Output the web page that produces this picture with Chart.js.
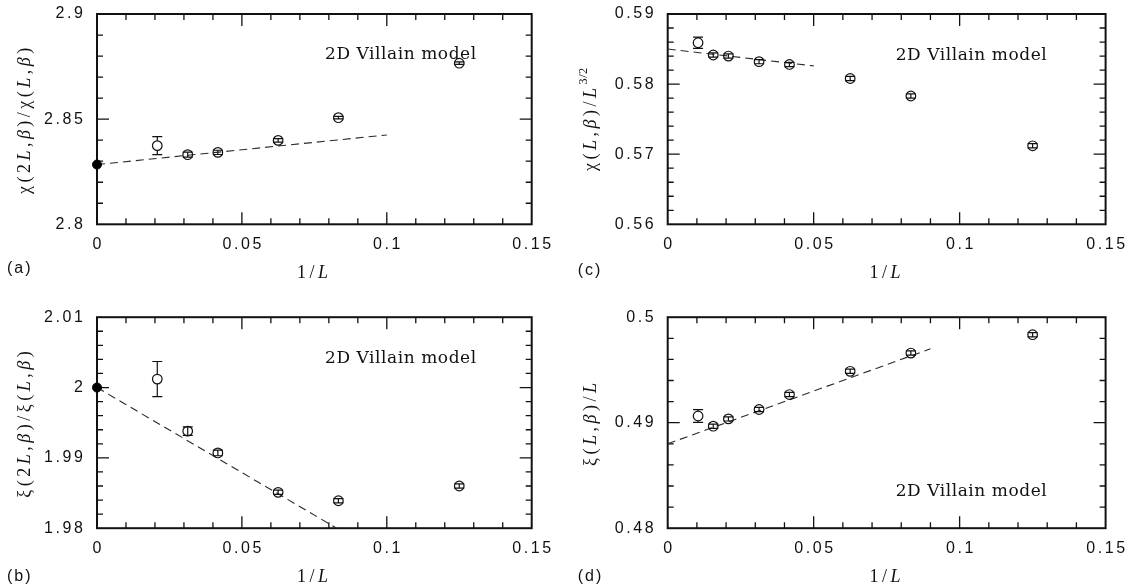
<!DOCTYPE html>
<html>
<head>
<meta charset="utf-8">
<script src="https://cdn.jsdelivr.net/npm/chart.js@4.4.1/dist/chart.umd.min.js"></script>
<style>
  html, body { margin: 0; padding: 0; background: #fff; }
  #wrap { position: relative; width: 1128px; height: 587px; overflow: hidden; background: #fff; }
  canvas { position: absolute; }
</style>
</head>
<body>
<div id="wrap">
  <canvas id="pa" width="564" height="293" style="left:0px;top:0px"></canvas>
  <canvas id="pb" width="564" height="294" style="left:0px;top:293px"></canvas>
  <canvas id="pc" width="564" height="293" style="left:564px;top:0px"></canvas>
  <canvas id="pd" width="564" height="294" style="left:564px;top:293px"></canvas>
</div>
<script>
// 1/L for L = 96, 64, 48, 32, 24, 16, 12, 8
const invL = [0.0104, 0.0156, 0.0208, 0.0313, 0.0417, 0.0625, 0.0833, 0.125];
// 1/L for the ratio observables (L = 48 ... 8)
const invLRatio = [0.0208, 0.0313, 0.0417, 0.0625, 0.0833, 0.125];

// (a) chi(2L,beta)/chi(L,beta)
const chiRatio    = [2.8374, 2.8331, 2.8342, 2.8399, 2.8507, 2.8766];
const chiRatioErr = [0.0043, 0.0012, 0.0010, 0.0008, 0.0006, 0.0006];
const chiRatioLimit = 2.8284;
const chiRatioFitX = [0, 0.1];
const chiRatioFitY = [2.8284, 2.8425];

// (b) xi(2L,beta)/xi(L,beta)
const xiRatio    = [2.0012, 1.9938, 1.9907, 1.9851, 1.9839, 1.9860];
const xiRatioErr = [0.0025, 0.0006, 0.0004, 0.0003, 0.0003, 0.0003];
const xiRatioLimit = 2.0;
const xiRatioFitX = [0, 0.0827];
const xiRatioFitY = [2.0, 1.98];

// (c) chi(L,beta)/L^{3/2}
const chiScaled    = [0.5859, 0.58415, 0.5840, 0.5832, 0.5828, 0.5808, 0.5783, 0.5712];
const chiScaledErr = [0.0008, 0.0003, 0.0003, 0.0003, 0.0003, 0.0003, 0.0003, 0.0003];
const chiScaledFitX = [0, 0.05];
const chiScaledFitY = [0.5850, 0.5826];

// (d) xi(L,beta)/L
const xiScaled    = [0.49064, 0.48967, 0.49036, 0.49125, 0.49267, 0.49487, 0.4966, 0.49834];
const xiScaledErr = [0.0006, 0.0002, 0.0002, 0.0002, 0.0002, 0.0002, 0.0002, 0.0002];
const xiScaledFitX = [0, 0.09];
const xiScaledFitY = [0.4880, 0.4970];

// Tick values and their labels
const xTickValues = [0, 0.05, 0.1, 0.15];
const xTickLabels = ['0', '0.05', '0.1', '0.15'];
const aTickValues = [2.8, 2.85, 2.9];
const aTickLabels = ['2.8', '2.85', '2.9'];
const bTickValues = [1.98, 1.99, 2.0, 2.01];
const bTickLabels = ['1.98', '1.99', '2', '2.01'];
const cTickValues = [0.56, 0.57, 0.58, 0.59];
const cTickLabels = ['0.56', '0.57', '0.58', '0.59'];
const dTickValues = [0.48, 0.49, 0.5];
const dTickLabels = ['0.48', '0.49', '0.5'];

const INK = '#111';
const TICK_FONT = '"Liberation Sans", Arial, sans-serif';
const MATH_FONT = '"Liberation Serif", "Times New Roman", serif';
const NOTE_FONT = '"DejaVu Serif", serif';
const TICK_SIZE = 16;
const TICK_SPACING = 2.6;

function labelFor(v, values, labels) {
  for (let i = 0; i < values.length; i++) {
    if (Math.abs(v - values[i]) < 1e-9) return labels[i];
  }
  return '';
}

// Draws a run of text pieces (upright / italic / superscript) as one line
function drawRich(ctx, parts, x, y, o) {
  ctx.save();
  const fontFor = p => (p.it ? 'italic ' : '') + (p.sup ? o.size * 0.68 : o.size) + 'px ' + o.family;
  const spacingFor = p => (p.sup ? 0.5 : (o.spacing || 0)) + 'px';
  let total = 0;
  const widths = parts.map(p => {
    ctx.font = fontFor(p);
    ctx.letterSpacing = spacingFor(p);
    const w = ctx.measureText(p.t).width;
    total += w;
    return w;
  });
  ctx.translate(x, y);
  if (o.rotate) ctx.rotate(o.rotate);
  let cx = o.align === 'left' ? 0 : (o.align === 'right' ? -total : -total / 2);
  ctx.textAlign = 'left';
  ctx.textBaseline = 'middle';
  ctx.fillStyle = o.color || INK;
  parts.forEach((p, i) => {
    ctx.font = fontFor(p);
    ctx.letterSpacing = spacingFor(p);
    ctx.fillText(p.t, cx, p.sup ? -o.size * 0.42 : 0);
    cx += widths[i];
  });
  ctx.restore();
}

const panelPlugin = {
  id: 'panelDecor',
  beforeDatasetsDraw(chart) {
    const ctx = chart.ctx;
    const a = chart.chartArea;
    const xs = chart.scales.x, ys = chart.scales.y;
    ctx.save();
    ctx.strokeStyle = INK;
    ctx.lineWidth = 1.3;
    // inward tick marks on all four sides
    xs.ticks.forEach(t => {
      const px = xs.getPixelForValue(t.value);
      if (px <= a.left + 1 || px >= a.right - 1) return;
      const len = t.label ? 12 : 6;
      ctx.beginPath();
      ctx.moveTo(px, a.bottom); ctx.lineTo(px, a.bottom - len);
      ctx.moveTo(px, a.top); ctx.lineTo(px, a.top + len);
      ctx.stroke();
    });
    ys.ticks.forEach(t => {
      const py = ys.getPixelForValue(t.value);
      if (py <= a.top + 1 || py >= a.bottom - 1) return;
      const len = t.label ? 12 : 6;
      ctx.beginPath();
      ctx.moveTo(a.left, py); ctx.lineTo(a.left + len, py);
      ctx.moveTo(a.right, py); ctx.lineTo(a.right - len, py);
      ctx.stroke();
    });
    // frame
    ctx.lineWidth = 2;
    ctx.strokeRect(a.left, a.top, a.right - a.left, a.bottom - a.top);
    ctx.restore();
  },
  afterDatasetsDraw(chart, args, opts) {
    const ctx = chart.ctx;
    const a = chart.chartArea;
    const xs = chart.scales.x, ys = chart.scales.y;
    const r = 4.7, cap = 5;
    ctx.save();
    ctx.strokeStyle = INK;
    ctx.lineWidth = 1.2;
    // error bars
    opts.ex.forEach((xv, i) => {
      const px = xs.getPixelForValue(xv);
      const py = ys.getPixelForValue(opts.ey[i]);
      const top = ys.getPixelForValue(opts.ey[i] + opts.err[i]);
      const bot = ys.getPixelForValue(opts.ey[i] - opts.err[i]);
      ctx.beginPath();
      ctx.moveTo(px - cap, top); ctx.lineTo(px + cap, top);
      ctx.moveTo(px - cap, bot); ctx.lineTo(px + cap, bot);
      if (top < py - r) {
        ctx.moveTo(px, top); ctx.lineTo(px, py - r);
        ctx.moveTo(px, py + r); ctx.lineTo(px, bot);
      } else {
        ctx.moveTo(px, top); ctx.lineTo(px, bot);
      }
      ctx.stroke();
    });
    ctx.restore();

    // tick labels, placed from the scales' own ticks
    const tickOpts = { family: TICK_FONT, size: TICK_SIZE, spacing: TICK_SPACING };
    xs.ticks.forEach(t => {
      if (!t.label) return;
      drawRich(ctx, [{ t: t.label }], xs.getPixelForValue(t.value) + TICK_SPACING / 2, a.bottom + 20.7, tickOpts);
    });
    ys.ticks.forEach(t => {
      if (!t.label) return;
      drawRich(ctx, [{ t: t.label }], a.left - 14 + TICK_SPACING, ys.getPixelForValue(t.value),
        Object.assign({ align: 'right' }, tickOpts));
    });

    // axis titles, panel tag and annotation
    drawRich(ctx, [{ t: '1/' }, { t: 'L', it: true }],
      (a.left + a.right) / 2, a.bottom + 49,
      { family: MATH_FONT, size: 18, spacing: 3.5 });
    drawRich(ctx, opts.yTitle, a.left - opts.yTitleGap, (a.top + a.bottom) / 2,
      { family: MATH_FONT, size: 18, spacing: 3.5, rotate: -Math.PI / 2 });
    drawRich(ctx, [{ t: opts.tag }], a.left - 90, a.bottom + opts.tagGap,
      { family: TICK_FONT, size: 16, spacing: 2, align: 'left' });
    drawRich(ctx, [{ t: '2D Villain model' }],
      xs.getPixelForValue(opts.noteX), ys.getPixelForValue(opts.noteY),
      { family: NOTE_FONT, size: 17, spacing: 0.55, align: 'left' });
  }
};

function makePanel(id, p) {
  const datasets = [];
  datasets.push({
    data: p.fitX.map((x, i) => ({ x: x, y: p.fitY[i] })),
    showLine: true,
    borderColor: '#2a2a2a',
    borderWidth: 1.1,
    borderDash: [8, 5],
    pointRadius: 0,
    order: 3
  });
  datasets.push({
    data: p.xs.map((x, i) => ({ x: x, y: p.ys[i] })),
    showLine: false,
    pointStyle: 'circle',
    pointRadius: 4.8,
    pointBorderWidth: 1.2,
    pointBorderColor: INK,
    pointBackgroundColor: 'rgba(0,0,0,0)',
    clip: false,
    order: 2
  });
  if (p.limit !== undefined) {
    datasets.push({
      data: [{ x: 0, y: p.limit }],
      showLine: false,
      pointRadius: 4.5,
      pointBorderWidth: 1,
      pointBorderColor: '#000',
      pointBackgroundColor: '#000',
      clip: false,
      order: 1
    });
  }
  new Chart(document.getElementById(id), {
    type: 'scatter',
    data: { datasets: datasets },
    options: {
      responsive: false,
      animation: false,
      events: [],
      layout: { padding: { left: 0, top: p.top, right: p.right, bottom: 0 } },
      plugins: {
        legend: { display: false },
        tooltip: { enabled: false },
        panelDecor: {
          ex: p.xs, ey: p.ys, err: p.err,
          yTitle: p.yTitle, yTitleGap: p.yTitleGap,
          tag: p.tag, tagGap: p.tagGap,
          noteX: p.noteX, noteY: p.noteY
        }
      },
      scales: {
        x: {
          type: 'linear', min: 0, max: 0.15,
          grid: { display: false, drawTicks: false },
          border: { display: false },
          ticks: {
            display: false, stepSize: 0.01, autoSkip: false, maxRotation: 0, minRotation: 0,
            callback: v => labelFor(v, xTickValues, xTickLabels)
          },
          afterFit: s => { s.height = p.xHeight; }
        },
        y: {
          type: 'linear', min: p.ymin, max: p.ymax,
          grid: { display: false, drawTicks: false },
          border: { display: false },
          ticks: {
            display: false, stepSize: p.ystep, autoSkip: false,
            callback: v => labelFor(v, p.tickValues, p.tickLabels)
          },
          afterFit: s => { s.width = p.yWidth; }
        }
      }
    },
    plugins: [panelPlugin]
  });
}

makePanel('pa', {
  xs: invLRatio, ys: chiRatio, err: chiRatioErr, limit: chiRatioLimit,
  fitX: chiRatioFitX, fitY: chiRatioFitY,
  ymin: 2.8, ymax: 2.9, ystep: 0.01, tickValues: aTickValues, tickLabels: aTickLabels,
  top: 14, right: 32.3, yWidth: 97, xHeight: 68.7,
  yTitle: [{ t: 'χ(2' }, { t: 'L', it: true }, { t: ',' }, { t: 'β', it: true }, { t: ')/χ(' },
           { t: 'L', it: true }, { t: ',' }, { t: 'β', it: true }, { t: ')' }],
  yTitleGap: 72, tag: '(a)', tagGap: 44, noteX: 0.0787, noteY: 2.8805
});

makePanel('pb', {
  xs: invLRatio, ys: xiRatio, err: xiRatioErr, limit: xiRatioLimit,
  fitX: xiRatioFitX, fitY: xiRatioFitY,
  ymin: 1.98, ymax: 2.01, ystep: 0.002, tickValues: bTickValues, tickLabels: bTickLabels,
  top: 24.2, right: 32.3, yWidth: 97, xHeight: 58.8,
  yTitle: [{ t: 'ξ(2' }, { t: 'L', it: true }, { t: ',' }, { t: 'β', it: true }, { t: ')/ξ(' },
           { t: 'L', it: true }, { t: ',' }, { t: 'β', it: true }, { t: ')' }],
  yTitleGap: 72, tag: '(b)', tagGap: 48, noteX: 0.0787, noteY: 2.0041
});

makePanel('pc', {
  xs: invL, ys: chiScaled, err: chiScaledErr,
  fitX: chiScaledFitX, fitY: chiScaledFitY,
  ymin: 0.56, ymax: 0.59, ystep: 0.002, tickValues: cTickValues, tickLabels: cTickLabels,
  top: 14, right: 22.4, yWidth: 103.7, xHeight: 68.7,
  yTitle: [{ t: 'χ(' }, { t: 'L', it: true }, { t: ',' }, { t: 'β', it: true }, { t: ')/' },
           { t: 'L', it: true }, { t: '3/2', sup: true }],
  yTitleGap: 76, tag: '(c)', tagGap: 46, noteX: 0.0781, noteY: 0.5841
});

makePanel('pd', {
  xs: invL, ys: xiScaled, err: xiScaledErr,
  fitX: xiScaledFitX, fitY: xiScaledFitY,
  ymin: 0.48, ymax: 0.5, ystep: 0.002, tickValues: dTickValues, tickLabels: dTickLabels,
  top: 24.2, right: 22.4, yWidth: 103.7, xHeight: 58.8,
  yTitle: [{ t: 'ξ(' }, { t: 'L', it: true }, { t: ',' }, { t: 'β', it: true }, { t: ')/' },
           { t: 'L', it: true }],
  yTitleGap: 76, tag: '(d)', tagGap: 48, noteX: 0.0781, noteY: 0.48346
});
</script>
</body>
</html>
